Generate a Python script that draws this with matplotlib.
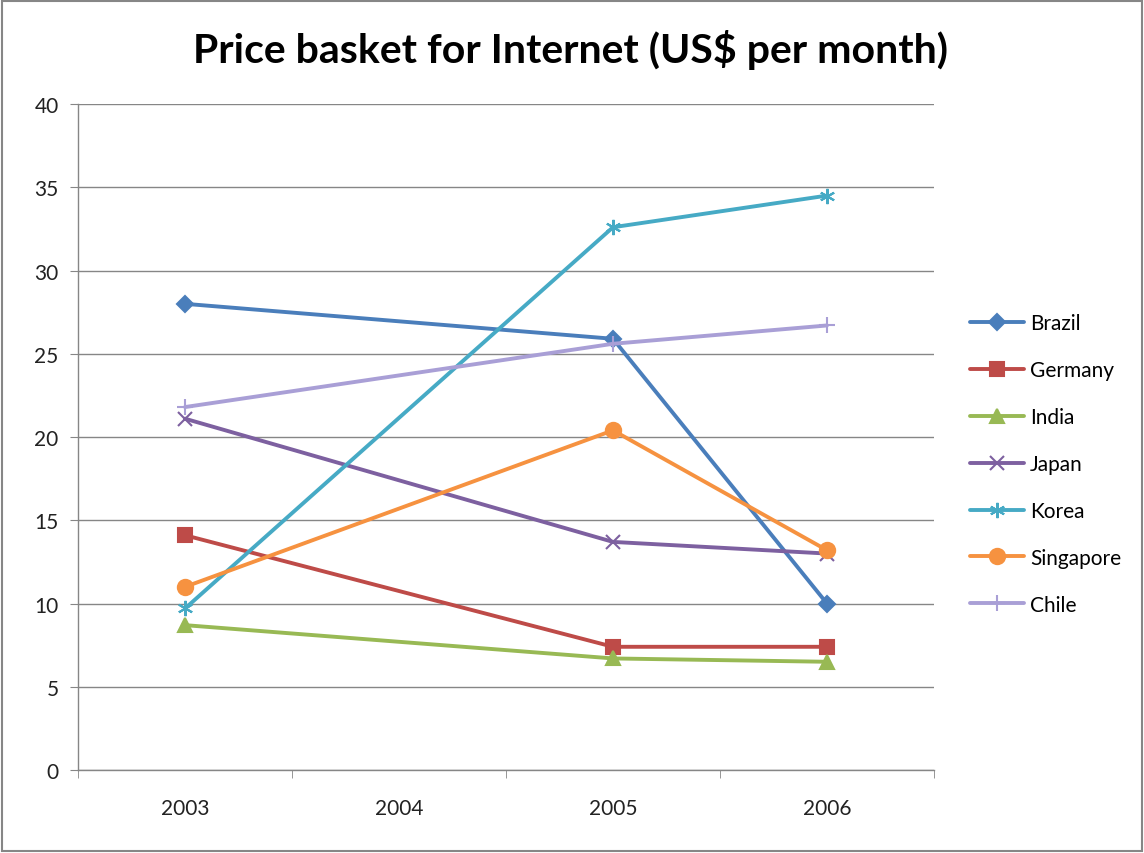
import numpy as np
import matplotlib
matplotlib.use("Agg")
import matplotlib.pyplot as plt
from matplotlib.patches import Rectangle

plt.rcParams['font.family'] = ['Lato', 'DejaVu Sans']

years = ["2003", "2004", "2005", "2006"]
# 2004 has no data; Excel joins the points across the gap
brazil = [28.0, None, 25.9, 10.0]
germany = [14.1, None, 7.4, 7.4]
india = [8.7, None, 6.7, 6.5]
japan = [21.1, None, 13.7, 13.0]
korea = [9.7, None, 32.6, 34.5]
singapore = [11.0, None, 20.4, 13.2]
chile = [21.8, None, 25.6, 26.7]

names = ["Brazil", "Germany", "India", "Japan", "Korea", "Singapore", "Chile"]
series = [brazil, germany, india, japan, korea, singapore, chile]
colors = ["#4A7EBB", "#BE4B48", "#98B954", "#7D60A0", "#46AAC5", "#F69240", "#A99FD6"]
markers = ["D", "s", "^", "x", (6, 2, 0), "o", "+"]
msizes = [8, 10, 10, 10, 11, 11, 12]

fig = plt.figure(figsize=(11.44, 8.54), dpi=100)
ax = fig.add_axes([0.0682, 0.0972, 0.7482, 0.7798])

for name, vals, c, m, ms in zip(names, series, colors, markers, msizes):
    xs = [i for i, v in enumerate(vals) if v is not None]
    ys = [v for v in vals if v is not None]
    ax.plot(xs, ys, color=c, lw=2.8, marker=m, ms=ms, mfc=c, mec=c,
            mew=1.5, label=name, solid_capstyle='round', zorder=3)

ax.set_xlim(-0.5, 3.5)
ax.set_ylim(0, 40)
ax.set_yticks(np.arange(0, 41, 5))
ax.set_xticks(range(len(years)))
ax.set_xticklabels(years)
ax.set_xticks(np.arange(-0.5, 3.6, 1), minor=True)
ax.tick_params(axis='x', which='major', length=0, pad=20, labelsize=15, colors='#222222')
ax.tick_params(axis='x', which='minor', length=6, color='#868686', direction='out')
ax.tick_params(axis='y', length=6, color='#868686', direction='out', pad=8,
               labelsize=15, labelcolor='#222222')

ax.grid(axis='y', color='#868686', lw=1.0)
ax.set_axisbelow(True)
for s in ['top', 'right']:
    ax.spines[s].set_visible(False)
for s in ['left', 'bottom']:
    ax.spines[s].set_color('#868686')
    ax.spines[s].set_linewidth(1.0)

fig.text(0.4985, 0.941, "Price basket for Internet (US$ per month)",
         fontsize=29.5, fontweight='bold', ha='center', va='center')

leg = ax.legend(loc='center left', bbox_to_anchor=(1.02, 0.4595), frameon=False,
                fontsize=15, handlelength=2.6, labelspacing=1.29, handletextpad=0.3)

fig.patches.append(Rectangle((0.002, 0.002), 0.996, 0.996, transform=fig.transFigure,
                             fill=False, ec='#868686', lw=1.5))

fig.savefig("out.png", dpi=100)
